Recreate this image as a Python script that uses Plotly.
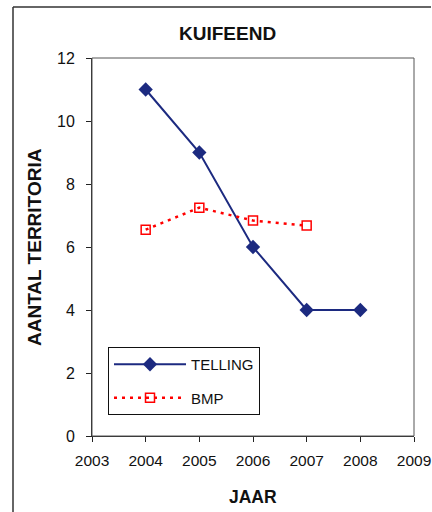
import plotly.graph_objects as go

years = [2004, 2005, 2006, 2007, 2008]
telling = [11, 9, 6, 4, 4]
bmp_years = [2004, 2005, 2006, 2007]
bmp = [6.55, 7.25, 6.84, 6.68]

title_text = "KUIFEEND"
x_title = "JAAR"
y_title = "AANTAL TERRITORIA"
x_ticks = [2003, 2004, 2005, 2006, 2007, 2008, 2009]
y_ticks = [0, 2, 4, 6, 8, 10, 12]

W, H = 432, 512
L, R, T, B = 92, 18, 58, 76
pw, ph = W - L - R, H - T - B

fig = go.Figure()
fig.add_trace(go.Scatter(
    x=years, y=telling, name="TELLING", mode="lines+markers", legendgroup="a",
    line=dict(color="#1c2a80", width=2),
    marker=dict(symbol="diamond", size=11, color="#1c2a80"),
))
fig.add_trace(go.Scatter(
    x=bmp_years, y=bmp, name="BMP", mode="lines+markers", legendgroup="b",
    line=dict(color="#ff0000", width=2.5, dash="3px,5px"),
    marker=dict(symbol="square-open", size=9, color="#ff0000", line=dict(width=1.5)),
))

font = "Liberation Sans, Arial, sans-serif"
fx0 = -(L - 13) / pw
fy1 = 1 + (T - 7) / ph
fig.update_layout(
    width=W, height=H, autosize=False,
    margin=dict(l=L, r=R, t=T, b=B, autoexpand=False),
    paper_bgcolor="white", plot_bgcolor="white",
    font=dict(family=font, size=15, color="#111"),
    showlegend=True,
    legend=dict(
        x=(108 - L) / pw, y=(H - B - 347) / ph, xanchor="left", yanchor="top",
        bordercolor="#111", borderwidth=1, bgcolor="white",
        font=dict(size=15, color="#111"),
        itemwidth=72, tracegroupgap=11,
    ),
    xaxis=dict(
        range=[2003, 2009], tickvals=x_ticks, ticktext=[str(v) for v in x_ticks],
        showgrid=False, zeroline=False, showline=True, linecolor="#222", linewidth=1,
        ticks="outside", ticklen=5, tickcolor="#222", mirror=False, automargin=False,
        ticklabelstandoff=5, tickfont=dict(size=15.5),
    ),
    yaxis=dict(
        range=[0, 12], tickvals=y_ticks,
        showgrid=False, zeroline=False, showline=True, linecolor="#222", linewidth=1,
        ticks="outside", ticklen=5, tickcolor="#222", automargin=False,
        ticklabelstandoff=8, tickfont=dict(size=16),
    ),
    annotations=[
        dict(text="<b>" + title_text + "</b>", x=(227 - L) / pw, y=1 + (T - 33) / ph,
             xref="paper", yref="paper", showarrow=False, font=dict(size=19),
             yanchor="middle"),
        dict(text="<b>" + x_title + "</b>", x=0.5, y=-(497 - (H - B)) / ph, xref="paper", yref="paper",
             showarrow=False, font=dict(size=17.5), yanchor="middle"),
        dict(text="<b>" + y_title + "</b>", x=-(L - 34) / pw, y=0.5, xref="paper", yref="paper",
             showarrow=False, font=dict(size=19), textangle=-90, xanchor="center"),
    ],
    shapes=[
        # plot area frame (top/right)
        dict(type="rect", xref="paper", yref="paper", x0=0, y0=0, x1=1, y1=1,
             line=dict(color="#555", width=1)),
        # outer chart border (left and top edges visible)
        dict(type="line", xref="paper", yref="paper", x0=fx0, y0=fy1, x1=fx0, y1=-(H - B + 20) / ph,
             line=dict(color="#333", width=1.5)),
        dict(type="line", xref="paper", yref="paper", x0=fx0, y0=fy1, x1=1 + (R - 1) / pw, y1=fy1,
             line=dict(color="#333", width=1.5)),
    ],
)

fig.write_html(
    "out.html",
    config={"displayModeBar": False, "responsive": False},
    post_script="document.body.style.margin='0';document.body.style.overflow='hidden';",
)
